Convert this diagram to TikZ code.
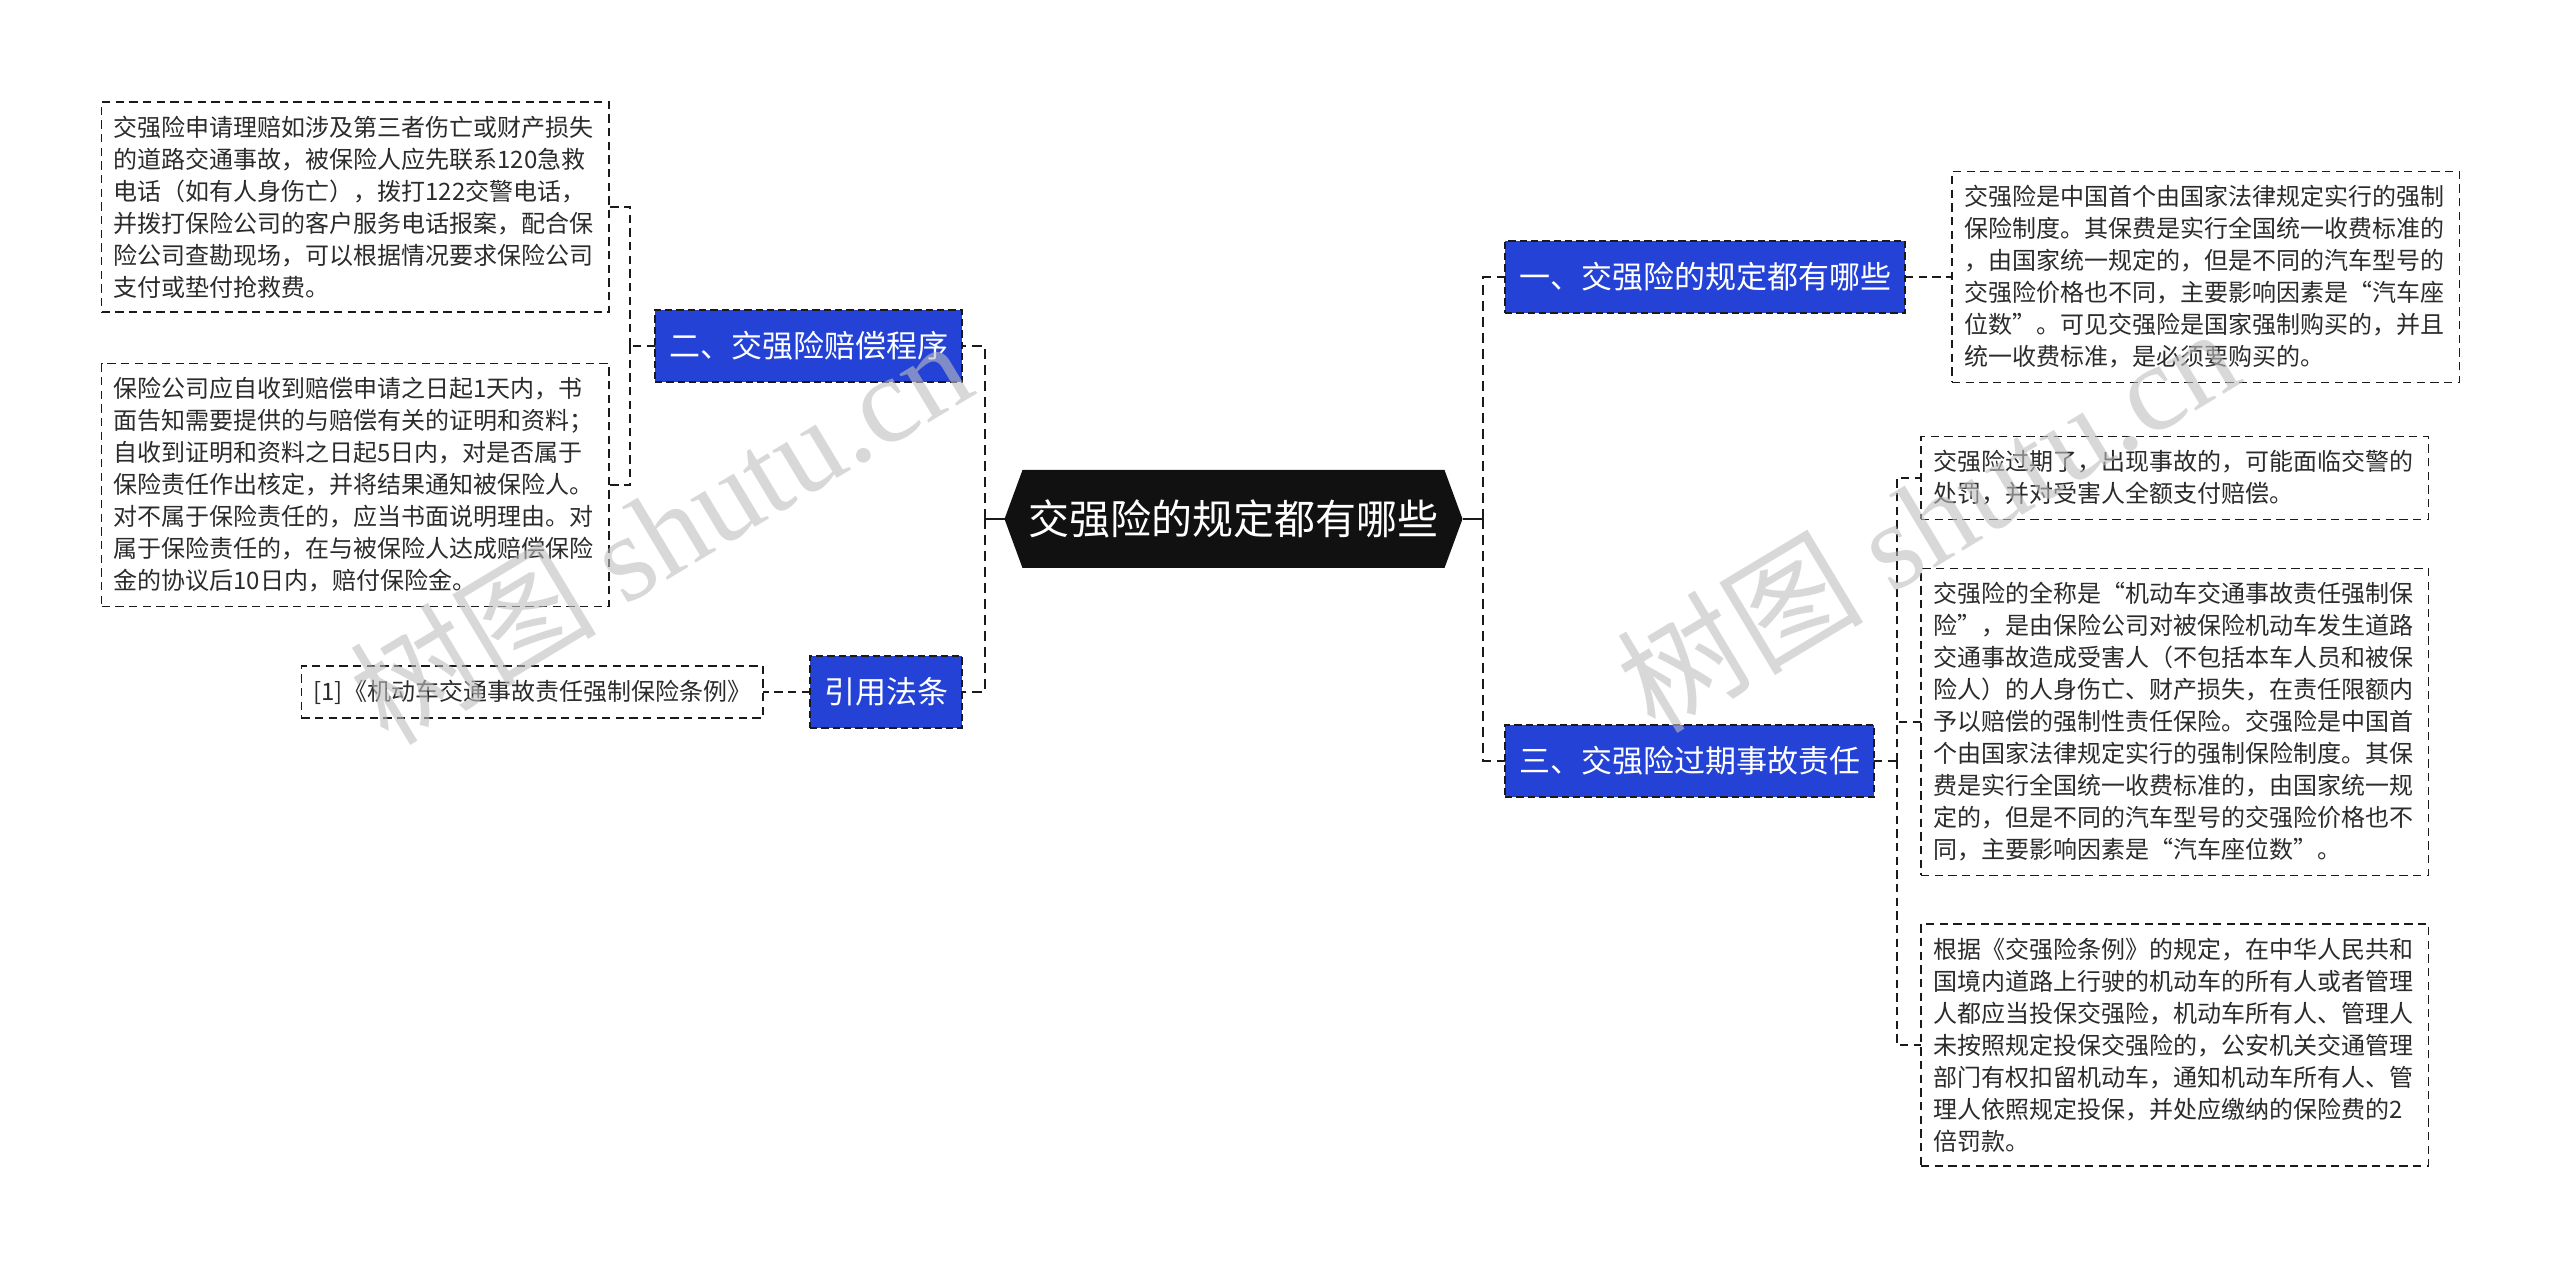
\documentclass[tikz,border=0pt]{standalone}
\usepackage{fontspec}
\setmainfont{Noto Sans CJK SC}
\newfontfamily\markfont{Liberation Serif}
\usetikzlibrary{calc,backgrounds}
\definecolor{ink}{HTML}{2B2B2B}
\definecolor{edge}{HTML}{1A1A1A}
\definecolor{topic}{HTML}{2443D6}
\definecolor{rootfill}{HTML}{111111}
\definecolor{mark}{HTML}{BEBEBE}
\newcommand{\PtrW}{18}

\begin{document}
\begin{tikzpicture}[x=0.3pt, y=-0.3pt,
  leaf/.style={draw=edge, dash pattern=on 2.5pt off 1.6pt, line width=0.45pt, text=ink,
    font=\fontsize{7.2pt}{9.6pt}\selectfont, align=left, inner xsep=3.6pt, inner ysep=4.2pt, outer sep=0pt},
  wideleaf/.style={leaf, text width=145pt},
  topicbox/.style={fill=topic, draw=edge, dash pattern=on 2.2pt off 1.2pt, line width=0.5pt, text=white,
    font=\fontsize{9.3pt}{11pt}\selectfont, inner xsep=4.2pt, inner ysep=0pt, minimum height=21.6pt, outer sep=0pt},
  rootbox/.style={text=white, font=\fontsize{12.3pt}{14pt}\selectfont, minimum width=126.6pt,
    minimum height=29.4pt, inner sep=0pt, outer sep=0pt},
  stem/.style={draw=edge, line width=0.75pt},
  trunk/.style={draw=edge, line width=0.75pt, dash pattern=on 3pt off 1.8pt},
  twig/.style={draw=edge, line width=0.45pt, dash pattern=on 2.5pt off 1.6pt},
  wmark/.style={text=mark, opacity=0.6, font=\fontsize{37pt}{40pt}\selectfont, rotate=31}]

\useasboundingbox (0,0) rectangle (2560,1269);

% --- Root ---------------------------------------------------------------------
\node[rootbox] (root) at (1233.5,519) {交强险的规定都有哪些};
\begin{scope}[on background layer]
  \fill[rootfill] ($(root.west)+(-\PtrW,0)$) -- (root.north west) -- (root.north east)
    -- ($(root.east)+(\PtrW,0)$) -- (root.south east) -- (root.south west) -- cycle;
\end{scope}

% --- Topics -------------------------------------------------------------------
\node[topicbox, anchor=east] (pay) at (962,346) {二、交强险赔偿程序};
\node[topicbox, anchor=east] (law) at (962,692) {引用法条};
\node[topicbox, anchor=west] (rule) at (1505,277) {一、交强险的规定都有哪些};
\node[topicbox, anchor=west] (late) at (1505,761) {三、交强险过期事故责任};

% --- Leaves, left ---------------------------------------------------------------
\node[wideleaf, anchor=east] (payA) at (609,207) {交强险申请理赔如涉及第三者伤亡或财产损失\\的道路交通事故，被保险人应先联系120急救\\电话（如有人身伤亡），拨打122交警电话，\\并拨打保险公司的客户服务电话报案，配合保\\险公司查勘现场，可以根据情况要求保险公司\\支付或垫付抢救费。};
\node[wideleaf, anchor=east] (payB) at (609,485) {保险公司应自收到赔偿申请之日起1天内，书\\面告知需要提供的与赔偿有关的证明和资料；\\自收到证明和资料之日起5日内，对是否属于\\保险责任作出核定，并将结果通知被保险人。\\对不属于保险责任的，应当书面说明理由。对\\属于保险责任的，在与被保险人达成赔偿保险\\金的协议后10日内，赔付保险金。};
\node[leaf, anchor=east] (lawA) at (763,692) {[1]《机动车交通事故责任强制保险条例》};

% --- Leaves, right --------------------------------------------------------------
\node[wideleaf, anchor=west] (ruleA) at (1952,277) {交强险是中国首个由国家法律规定实行的强制\\保险制度。其保费是实行全国统一收费标准的\\，由国家统一规定的，但是不同的汽车型号的\\交强险价格也不同，主要影响因素是“汽车座\\位数”。可见交强险是国家强制购买的，并且\\统一收费标准，是必须要购买的。};
\node[wideleaf, anchor=west] (lateA) at (1921,478) {交强险过期了，出现事故的，可能面临交警的\\处罚，并对受害人全额支付赔偿。};
\node[wideleaf, anchor=west] (lateB) at (1921,722) {交强险的全称是“机动车交通事故责任强制保\\险”，是由保险公司对被保险机动车发生道路\\交通事故造成受害人（不包括本车人员和被保\\险人）的人身伤亡、财产损失，在责任限额内\\予以赔偿的强制性责任保险。交强险是中国首\\个由国家法律规定实行的强制保险制度。其保\\费是实行全国统一收费标准的，由国家统一规\\定的，但是不同的汽车型号的交强险价格也不\\同，主要影响因素是“汽车座位数”。};
\node[wideleaf, anchor=west] (lateC) at (1921,1045) {根据《交强险条例》的规定，在中华人民共和\\国境内道路上行驶的机动车的所有人或者管理\\人都应当投保交强险，机动车所有人、管理人\\未按照规定投保交强险的，公安机关交通管理\\部门有权扣留机动车，通知机动车所有人、管\\理人依照规定投保，并处应缴纳的保险费的2\\倍罚款。};

% --- Connectors -----------------------------------------------------------------
\coordinate (lj) at (985,519);
\coordinate (rj) at (1483,519);
\coordinate (payj) at (630,346);
\coordinate (latej) at (1897,761);

\draw[stem] ($(root.west)+(-\PtrW,0)$) -- (lj);
\draw[stem] ($(root.east)+(\PtrW,0)$) -- (rj);
\foreach \t in {pay, law} \draw[trunk] (lj) |- (\t.east);
\foreach \t in {rule, late} \draw[trunk] (rj) |- (\t.west);

\draw[twig] (pay.west) -- (payj);
\foreach \t in {payA, payB} \draw[twig] (payj) |- (\t.east);
\draw[twig] (law.west) -- (lawA.east);
\draw[twig] (rule.east) -- (ruleA.west);
\draw[twig] (late.east) -- (latej);
\foreach \t in {lateA, lateB, lateC} \draw[twig] (latej) |- (\t.west);

% --- Watermark ------------------------------------------------------------------
\node[wmark] (markL) at (660,530) {树图 {\markfont shutu.cn}};
\node[wmark] (markR) at (1927,518) {树图 {\markfont shutu.cn}};

\end{tikzpicture}
\end{document}
